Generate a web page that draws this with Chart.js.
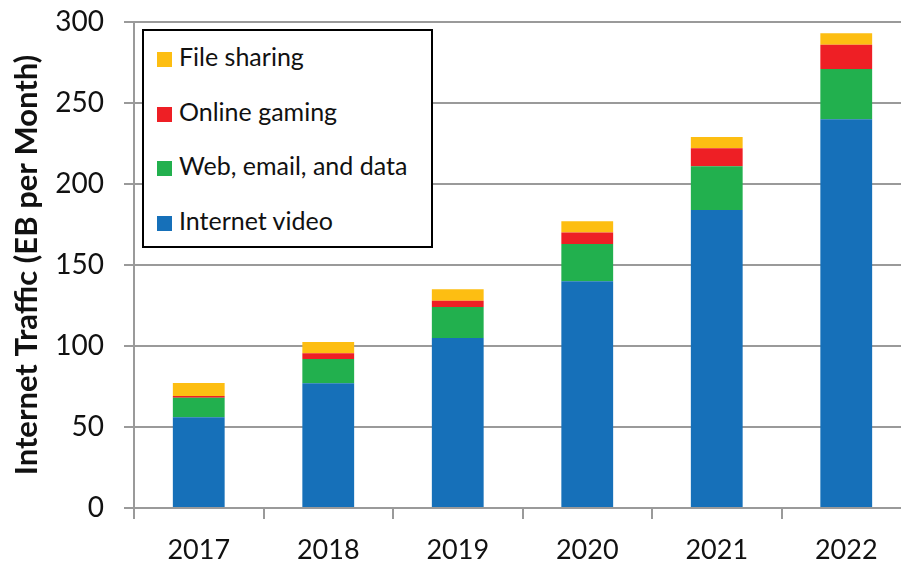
<!DOCTYPE html>
<html>
<head>
<meta charset="utf-8">
<script src="https://cdn.jsdelivr.net/npm/chart.js@4"></script>
<style>
    html, body { margin: 0; padding: 0; background: #fff; overflow: hidden; }
    #wrap { position: relative; width: 912px; height: 563px; }
    #legendBox {
        position: absolute; left: 142px; top: 29px; width: 287px; height: 215px;
        border: 2px solid #000; background: #fff;
        font-family: Lato, sans-serif; font-size: 25px; color: #111;
    }
    .item { position: absolute; left: 13px; height: 30px; line-height: 30px; white-space: nowrap; }
    .item span { display: inline-block; width: 15px; height: 15px; margin-right: 7px; vertical-align: -1px; }
</style>
</head>
<body>
<div id="wrap">
    <canvas id="trafficChart" width="912" height="563"></canvas>
    <div id="legendBox"></div>
</div>
<script>
const years = ['2017', '2018', '2019', '2020', '2021', '2022'];
// EB per month
const internetVideo = [56, 77, 105, 140, 184, 240];
const webEmailData = [12, 15, 19, 23, 27, 31];
const onlineGaming = [1.2, 3.5, 4, 7, 11, 15];
const fileSharing = [8, 7, 7, 7, 7, 7];
const yTicks = [0, 50, 100, 150, 200, 250, 300];

const gridColor = '#9a9a9a';
const fontFamily = 'Lato, sans-serif';

const datasets = [
    { label: 'Internet video', data: internetVideo, backgroundColor: '#1670b9' },
    { label: 'Web, email, and data', data: webEmailData, backgroundColor: '#22b04e' },
    { label: 'Online gaming', data: onlineGaming, backgroundColor: '#ee1f25' },
    { label: 'File sharing', data: fileSharing, backgroundColor: '#fdbe12' }
];

const ctx = document.getElementById('trafficChart').getContext('2d');
new Chart(ctx, {
    type: 'bar',
    data: { labels: years, datasets: datasets },
    options: {
        responsive: false,
        animation: false,
        layout: { padding: { top: 22, right: 1, left: 0, bottom: 0 } },
        datasets: { bar: { categoryPercentage: 1, barPercentage: 0.4, borderWidth: 0 } },
        plugins: { legend: { display: false }, tooltip: { enabled: false } },
        scales: {
            x: {
                stacked: true,
                grid: { offset: true, drawOnChartArea: false, drawTicks: true, tickLength: 11, color: gridColor, lineWidth: 2 },
                border: { display: true, color: gridColor, width: 2 },
                ticks: { color: '#111', padding: 15, font: { family: fontFamily, size: 27 } },
                afterFit: scale => { scale.height = 55; }
            },
            y: {
                stacked: true,
                min: 0,
                max: 300,
                afterBuildTicks: scale => { scale.ticks = yTicks.map(v => ({ value: v })); },
                grid: { color: gridColor, lineWidth: 2, tickLength: 10 },
                border: { display: true, color: gridColor, width: 2 },
                ticks: { color: '#111', padding: 20, font: { family: fontFamily, size: 28 } },
                title: {
                    display: true,
                    text: 'Internet Traffic (EB per Month)',
                    color: '#111',
                    font: { family: fontFamily, size: 31, weight: 'bold' },
                    padding: { top: 8, bottom: 0 }
                },
                afterFit: scale => {
                    scale.width = 134;
                    // the tick padding should not push the plot area down
                    scale.paddingTop = 0;
                    scale.paddingBottom = 0;
                }
            }
        }
    }
});

// legend box, top to bottom in reverse stack order
const legendBox = document.getElementById('legendBox');
datasets.slice().reverse().forEach((ds, i) => {
    const item = document.createElement('div');
    item.className = 'item';
    item.style.top = (10 + i * 54.5) + 'px';
    const swatch = document.createElement('span');
    swatch.style.backgroundColor = ds.backgroundColor;
    item.appendChild(swatch);
    item.appendChild(document.createTextNode(ds.label));
    legendBox.appendChild(item);
});
</script>
</body>
</html>
